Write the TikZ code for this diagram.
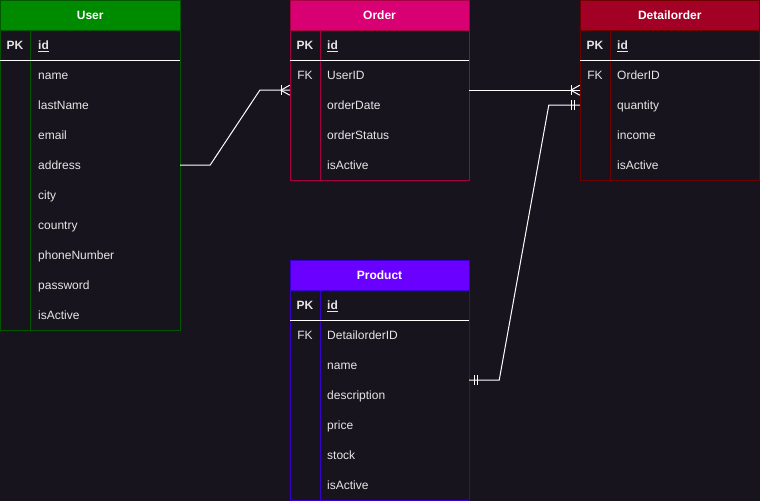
\documentclass[tikz,border=0pt]{standalone}
\usepackage{fontspec}
\setmainfont{Liberation Sans}
\usetikzlibrary{calc}
\definecolor{bg}{HTML}{18141D}
\definecolor{txt}{HTML}{E6E6E6}
\definecolor{ufill}{HTML}{008A00}\definecolor{ustroke}{HTML}{005700}
\definecolor{ofill}{HTML}{D80073}\definecolor{ostroke}{HTML}{A50040}
\definecolor{dfill}{HTML}{A20025}\definecolor{dstroke}{HTML}{6F0000}
\definecolor{pfill}{HTML}{6A00FF}\definecolor{pstroke}{HTML}{3700CC}
\begin{document}
\begin{tikzpicture}[x=1pt,y=-1pt,
  font=\fontsize{12}{14}\selectfont,
  hdr/.style={minimum height=30, inner sep=0, text=white, font=\fontsize{12}{14}\selectfont\bfseries, line width=1},
  rowbox/.style={minimum height=30, inner sep=0, draw=none},
  fld/.style={anchor=base west, inner sep=0, text=txt},
  key/.style={anchor=base, inner sep=0, text=txt, font=\fontsize{12}{14}\selectfont\bfseries},
  fkey/.style={anchor=base, inner sep=0, text=txt},
  conn/.style={draw=white, line width=1},
  sep/.style={draw=white, line width=1}]
\fill[bg] (0,0) rectangle (760,501);
\useasboundingbox (0,0) rectangle (760,501);

% ---------- User ----------
\draw[ustroke, line width=1] (0.5,0.5) rectangle (180,330);
\draw[ustroke, line width=1] (30,30) -- (30,330);
\node[hdr, fill=ufill, draw=ustroke, minimum width=179.5] (user) at (90.25,15.25) {User};
\node[rowbox, minimum width=180] (u-id) at (90,45) {};
\node[key] at (15,49.5) {PK};
\node[fld] at (38,49.5) {\bfseries\underline{id}};
\draw[sep] (0,60) -- (180,60);
\foreach \nm/\lab [count=\i] in {name/name,lastname/lastName,email/email,address/address,city/city,country/country,phone/phoneNumber,password/password,isactive/isActive}{
  \node[rowbox, minimum width=180] (u-\nm) at (90,{45+30*\i}) {};
  \node[fld] at (38,{49.5+30*\i}) {\lab};
}

% ---------- Order ----------
\draw[ostroke, line width=1] (290,0.5) rectangle (469,180);
\draw[ostroke, line width=1] (320,30) -- (320,180);
\node[hdr, fill=ofill, draw=ostroke, minimum width=179] (order) at (379.5,15.25) {Order};
\node[rowbox, minimum width=179] (o-id) at (379.5,45) {};
\node[key] at (305,49.5) {PK};
\node[fld] at (327,49.5) {\bfseries\underline{id}};
\draw[sep] (290,60) -- (469,60);
\node[fkey] at (305,79.5) {FK};
\foreach \nm/\lab [count=\i] in {userid/UserID,orderdate/orderDate,orderstatus/orderStatus,isactive/isActive}{
  \node[rowbox, minimum width=179] (o-\nm) at (379.5,{45+30*\i}) {};
  \node[fld] at (327,{49.5+30*\i}) {\lab};
}

% ---------- Detailorder ----------
\draw[dstroke, line width=1] (580,0.5) rectangle (759.5,180);
\draw[dstroke, line width=1] (610,30) -- (610,180);
\node[hdr, fill=dfill, draw=dstroke, minimum width=179.5] (detail) at (669.75,15.25) {Detailorder};
\node[rowbox, minimum width=180] (d-id) at (670,45) {};
\node[key] at (595,49.5) {PK};
\node[fld] at (617,49.5) {\bfseries\underline{id}};
\draw[sep] (580,60) -- (760,60);
\node[fkey] at (595,79.5) {FK};
\foreach \nm/\lab [count=\i] in {orderid/OrderID,quantity/quantity,income/income,isactive/isActive}{
  \node[rowbox, minimum width=180] (d-\nm) at (670,{45+30*\i}) {};
  \node[fld] at (617,{49.5+30*\i}) {\lab};
}

% ---------- Product ----------
\draw[pstroke, line width=1] (290,260) rectangle (469,500);
\draw[pstroke, line width=1] (320,290) -- (320,500);
\node[hdr, fill=pfill, draw=pstroke, minimum width=179] (product) at (379.5,275) {Product};
\node[rowbox, minimum width=179] (p-id) at (379.5,305) {};
\node[key] at (305,309.5) {PK};
\node[fld] at (327,309.5) {\bfseries\underline{id}};
\draw[sep] (290,320) -- (469,320);
\node[fkey] at (305,339.5) {FK};
\foreach \nm/\lab [count=\i] in {detailid/DetailorderID,name/name,description/description,price/price,stock/stock,isactive/isActive}{
  \node[rowbox, minimum width=179] (p-\nm) at (379.5,{305+30*\i}) {};
  \node[fld] at (327,{309.5+30*\i}) {\lab};
}

% ---------- Connectors ----------
% User.address -> Order (one to many)
\draw[conn] (u-address.east) -- ++(30,0) -- ($(o-userid.south west)+(-30,0)$) -- (o-userid.south west);
\draw[conn] ($(o-userid.south west)+(-9,0)$) -- ++(9,-5);
\draw[conn] ($(o-userid.south west)+(-9,0)$) -- ++(9,5);
\draw[conn] ($(o-userid.south west)+(-8,-5)$) -- ++(0,10);

% Order -> Detailorder (one to many)
\draw[conn] (o-userid.south east) -- (d-orderid.south west);
\draw[conn] ($(d-orderid.south west)+(-9,0)$) -- ++(9,-5);
\draw[conn] ($(d-orderid.south west)+(-9,0)$) -- ++(9,5);
\draw[conn] ($(d-orderid.south west)+(-8,-5)$) -- ++(0,10);

% Product -> Detailorder (one to one)
\draw[conn] (p-name.south east) -- ++(30,0) -- ($(d-quantity.west)+(-31,0)$) -- (d-quantity.west);
\draw[conn] ($(p-name.south east)+(5,-5)$) -- ++(0,10);
\draw[conn] ($(p-name.south east)+(8,-5)$) -- ++(0,10);
\draw[conn] ($(d-quantity.west)+(-8,-5)$) -- ++(0,10);
\draw[conn] ($(d-quantity.west)+(-5,-5)$) -- ++(0,10);
\end{tikzpicture}
\end{document}
